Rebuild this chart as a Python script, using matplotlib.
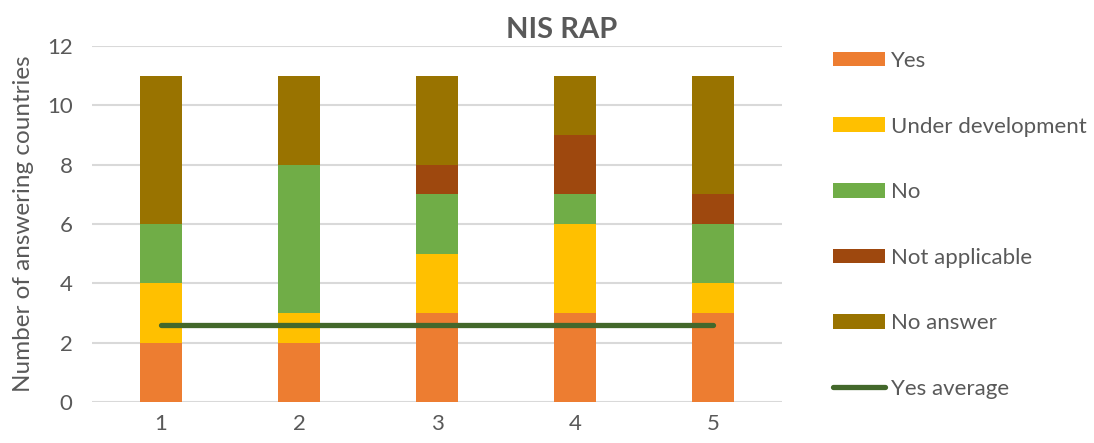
import matplotlib.pyplot as plt
from matplotlib.patches import Patch
from matplotlib.lines import Line2D
import numpy as np

# ------------------------
# Data
# ------------------------
categories = ["1", "2", "3", "4", "5"]
series_names = ["Yes", "Under development", "No", "Not applicable", "No answer"]
yes_vals = [2, 2, 3, 3, 3]
under_dev_vals = [2, 1, 2, 3, 1]
no_vals = [2, 5, 2, 1, 2]
not_applicable_vals = [0, 0, 1, 2, 1]
no_answer_vals = [5, 3, 3, 2, 4]
yes_average = [2.6, 2.6, 2.6, 2.6, 2.6]

colors = ["#ED7D31", "#FFC000", "#70AD47", "#9E480E", "#997300"]
line_color = "#43682B"
text_color = "#595959"
grid_color = "#D9D9D9"

plt.rcParams['font.family'] = ['Lato', 'DejaVu Sans']

fig = plt.figure(figsize=(10.94, 4.43), dpi=100)
ax = fig.add_axes([92 / 1094, 41 / 443, 690 / 1094, 356 / 443])

x = np.arange(len(categories))
bottom = np.zeros(len(categories))
all_series = [yes_vals, under_dev_vals, no_vals, not_applicable_vals, no_answer_vals]
for vals, color in zip(all_series, colors):
    ax.bar(x, vals, width=0.31, bottom=bottom, color=color, zorder=2)
    bottom += np.array(vals)

ax.plot(x, yes_average, color=line_color, linewidth=3.8, solid_capstyle="round", zorder=3)

ax.set_xlim(-0.5, len(categories) - 0.5)
ax.set_ylim(0, 12)
ax.set_yticks(range(0, 13, 2))
ax.set_xticks(x)
ax.set_xticklabels(categories)
ax.tick_params(axis="both", length=0, labelsize=16, colors=text_color)
ax.tick_params(axis="x", pad=9)
ax.tick_params(axis="y", pad=14)
ax.grid(axis="y", color=grid_color, linewidth=1.5, zorder=0)
for spine in ax.spines.values():
    spine.set_visible(False)

ax.set_ylabel("Number of answering countries", fontsize=17.5, color=text_color, labelpad=9)

fig.text(562 / 1094, 1 - 30 / 443, "NIS RAP", fontsize=21, fontweight="bold",
         color=text_color, ha="center", va="center")

handles = [Patch(facecolor=c, edgecolor="none") for c in colors]
handles.append(Line2D([0], [0], color=line_color, linewidth=3.8, solid_capstyle="round"))
labels = series_names + ["Yes average"]
fig.legend(handles, labels, loc="upper left", bbox_to_anchor=(833 / 1094, 1 - 51 / 443),
           frameon=False, fontsize=16, labelcolor=text_color, borderpad=0, borderaxespad=0,
           handlelength=2.34, handleheight=0.63, handletextpad=0.27, labelspacing=2.05)

fig.savefig("out.png", dpi=100)
